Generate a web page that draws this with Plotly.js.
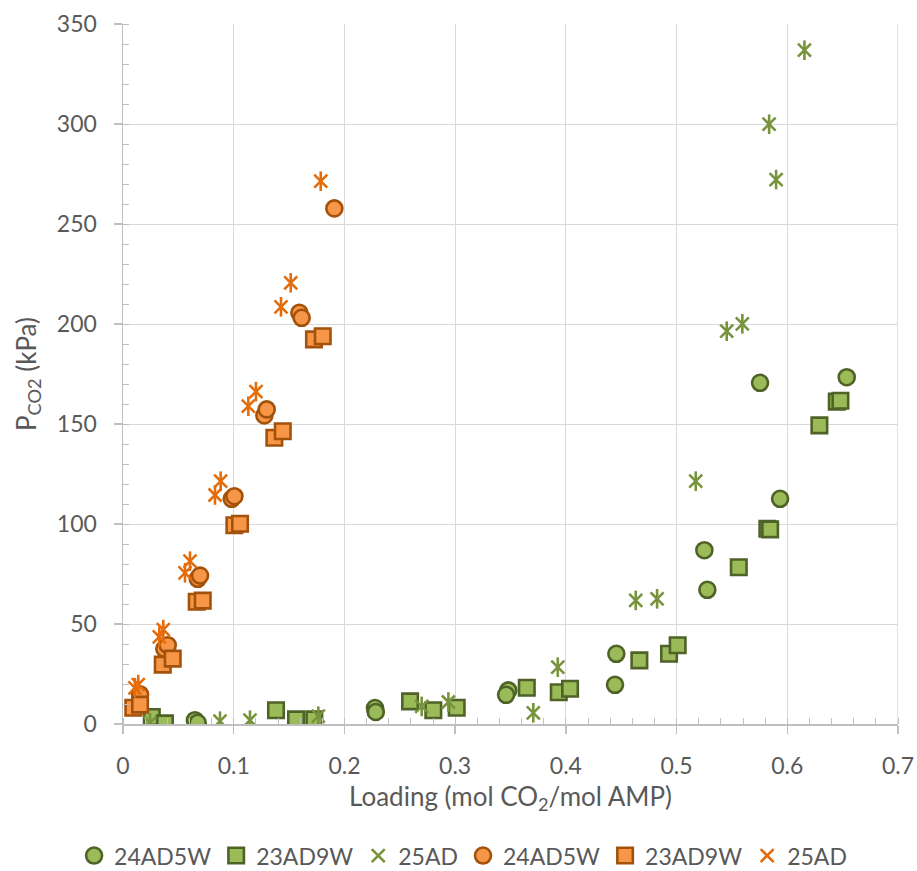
<!DOCTYPE html>
<html>
<head>
<meta charset="utf-8">
<script src="https://cdn.plot.ly/plotly-3.0.1.min.js"></script>
<style>html,body{margin:0;padding:0;background:#fff}#chart{width:917px;height:871px}</style>
</head>
<body>
<div id="chart"></div>
<script>
// ---- Data ----
// Green series
var g24AD5W_x = [0.065, 0.0675, 0.2276, 0.2283, 0.348, 0.346, 0.4456, 0.4444, 0.5251, 0.5278, 0.5935, 0.5754, 0.6537];
var g24AD5W_y = [1.9, 0.6, 8.0, 6.0, 16.8, 14.6, 35.1, 19.6, 86.9, 67.1, 112.6, 170.6, 173.4];
var g23AD9W_x = [0.026, 0.0379, 0.1382, 0.1563, 0.1728, 0.2593, 0.2803, 0.3014, 0.3647, 0.3936, 0.4038, 0.4664, 0.4932, 0.501, 0.5562, 0.582, 0.5845, 0.629, 0.6447, 0.648];
var g23AD9W_y = [3.5, 0.3, 6.9, 2.3, 2.3, 11.3, 6.9, 8.1, 18.1, 15.9, 17.6, 31.8, 35.1, 39.4, 78.4, 97.6, 97.3, 149.3, 161.2, 161.6];
var g25AD_x = [0.0244, 0.0876, 0.1147, 0.1764, 0.2698, 0.2939, 0.3706, 0.3927, 0.4631, 0.4824, 0.5173, 0.5453, 0.5594, 0.5836, 0.5899, 0.6155];
var g25AD_y = [0.6, 1.4, 1.9, 3.9, 8.8, 11.0, 5.6, 28.4, 61.8, 62.6, 121.4, 196.4, 200.1, 299.9, 272.2, 336.9];
// Orange series
var o24AD5W_x = [0.0154, 0.0373, 0.0404, 0.0675, 0.0696, 0.0982, 0.1006, 0.1277, 0.1298, 0.1593, 0.1614, 0.1909];
var o24AD5W_y = [14.8, 37.6, 39.4, 72.6, 74.2, 112.6, 113.9, 154.3, 157.3, 205.6, 203.1, 257.8];
var o23AD9W_x = [0.0093, 0.0154, 0.0359, 0.0449, 0.0666, 0.072, 0.1006, 0.1057, 0.1367, 0.1443, 0.1725, 0.1804];
var o23AD9W_y = [8.1, 9.7, 29.7, 32.7, 61.1, 61.7, 99.4, 100.1, 143.1, 146.4, 192.3, 193.9];
var o25AD_x = [0.0108, 0.0138, 0.0328, 0.0364, 0.056, 0.0605, 0.0831, 0.0882, 0.1132, 0.1201, 0.1427, 0.1515, 0.1786];
var o25AD_y = [18.1, 19.7, 43.6, 47.2, 75.6, 81.4, 114.5, 121.4, 158.9, 166.2, 208.6, 220.6, 271.4];

var seriesNames = ['24AD5W', '23AD9W', '25AD', '24AD5W', '23AD9W', '25AD'];
var xTickVals = [0, 0.1, 0.2, 0.3, 0.4, 0.5, 0.6, 0.7];
var xTickText = ['0', '0.1', '0.2', '0.3', '0.4', '0.5', '0.6', '0.7'];
var yTickVals = [0, 50, 100, 150, 200, 250, 300, 350];
var yTickText = ['0', '50', '100', '150', '200', '250', '300', '350'];

// ---- Styles ----
var GREEN_FILL = '#9BBB59', GREEN_LINE = '#4F6228', GREEN_X = '#77933C';
var ORANGE_FILL = '#F79646', ORANGE_LINE = '#A3520B', ORANGE_X = '#E46C0A';
var FONT = 'Lato, "Open Sans", sans-serif';
var TXT = '#595959';

function filled(x, y, name, sym, size, fill, line) {
  return {x: x, y: y, name: name, type: 'scatter', mode: 'markers',
    marker: {symbol: sym, size: size, color: fill, line: {color: line, width: 2.6}}};
}
function star(x, y, name, col) {
  return [
    {x: x, y: y, name: name, type: 'scatter', mode: 'markers', legendgroup: name + col,
     marker: {symbol: 'x-thin-open', size: 13, color: col, line: {color: col, width: 2.6}}},
    {x: x, y: y, name: name, type: 'scatter', mode: 'markers', legendgroup: name + col, showlegend: false,
     marker: {symbol: 'line-ns-open', size: 14, color: col, line: {color: col, width: 2.6}}}
  ];
}

var data = [].concat(
  [filled(g24AD5W_x, g24AD5W_y, seriesNames[0], 'circle', 16, GREEN_FILL, GREEN_LINE)],
  [filled(g23AD9W_x, g23AD9W_y, seriesNames[1], 'square', 15.5, GREEN_FILL, GREEN_LINE)],
  star(g25AD_x, g25AD_y, seriesNames[2], GREEN_X),
  [filled(o24AD5W_x, o24AD5W_y, seriesNames[3], 'circle', 16, ORANGE_FILL, ORANGE_LINE)],
  [filled(o23AD9W_x, o23AD9W_y, seriesNames[4], 'square', 15.5, ORANGE_FILL, ORANGE_LINE)],
  star(o25AD_x, o25AD_y, seriesNames[5], ORANGE_X)
);

var layout = {
  width: 917, height: 871,
  margin: {l: 123, r: 19, t: 24, b: 146.5, pad: 0, autoexpand: false},
  paper_bgcolor: '#ffffff', plot_bgcolor: '#ffffff',
  font: {family: FONT, size: 23, color: TXT},
  showlegend: true,
  legend: {orientation: 'h', xref: 'container', x: 0.505, xanchor: 'center',
    y: -0.188, yanchor: 'middle', itemwidth: 30, traceorder: 'normal',
    font: {family: FONT, size: 23, color: TXT}},
  xaxis: {
    range: [0, 0.7], tickvals: xTickVals, ticktext: xTickText, automargin: false,
    showgrid: true, gridcolor: '#D9D9D9', gridwidth: 1,
    showline: true, linecolor: '#BFBFBF', linewidth: 1.5, mirror: false,
    ticks: 'outside', ticklen: 8, tickcolor: '#BFBFBF', tickwidth: 1.5,
    minor: {dtick: 0.02, ticks: 'inside', ticklen: 6, tickcolor: '#BFBFBF', tickwidth: 1, showgrid: false},
    zeroline: false, tickfont: {family: FONT, size: 23, color: TXT},
    ticklabelstandoff: 13,
    title: {text: 'Loading (mol CO<sub>2</sub>/mol AMP)', font: {family: FONT, size: 26, color: TXT}, standoff: 9}
  },
  yaxis: {
    range: [0, 350], tickvals: yTickVals, ticktext: yTickText, automargin: false,
    showgrid: true, gridcolor: '#D9D9D9', gridwidth: 1,
    showline: true, linecolor: '#BFBFBF', linewidth: 1.5,
    ticks: 'outside', ticklen: 8, tickcolor: '#BFBFBF', tickwidth: 1.5,
    minor: {dtick: 10, ticks: 'inside', ticklen: 6, tickcolor: '#BFBFBF', tickwidth: 1, showgrid: false},
    zeroline: false, tickfont: {family: FONT, size: 23, color: TXT},
    ticklabelstandoff: 12,
    title: {text: 'P<sub>CO2</sub> (kPa)', font: {family: FONT, size: 26, color: TXT}, standoff: 13}
  },
  shapes: [
    {type: 'line', xref: 'x', yref: 'paper', x0: 0.7, x1: 0.7, y0: 0, y1: 1, line: {color: '#D9D9D9', width: 1.5}, layer: 'below'}
  ]
};

Plotly.newPlot('chart', data, layout, {displayModeBar: false, staticPlot: true});
</script>
</body>
</html>
